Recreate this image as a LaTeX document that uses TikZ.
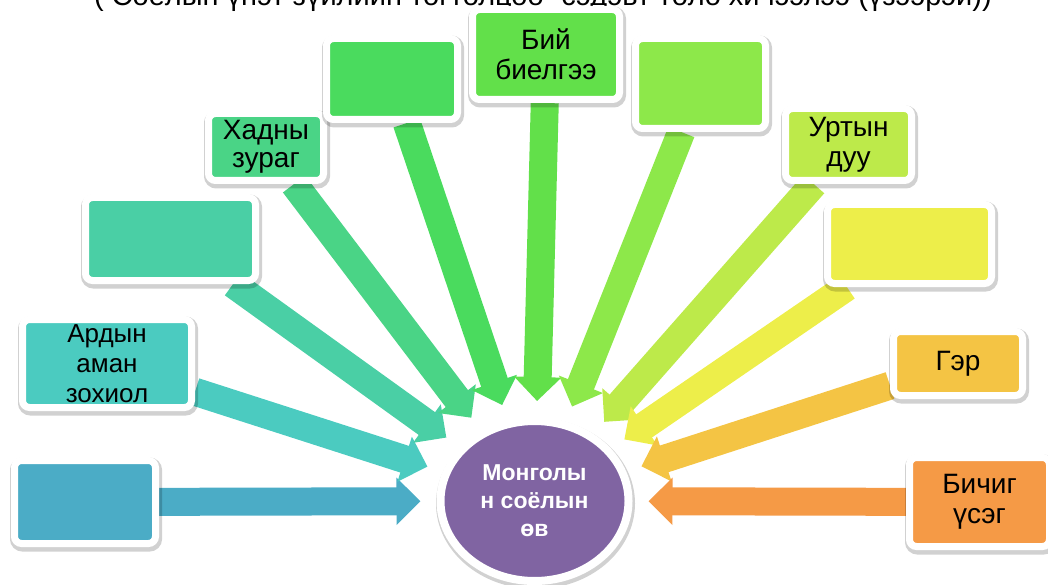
\documentclass[tikz,border=0pt]{standalone}
\usepackage{fontspec}
\setmainfont{Liberation Sans}
\usetikzlibrary{arrows.meta,shadows,shapes.geometric}
\usepackage{xcolor}

\definecolor{cBlue}{HTML}{4BACC6}
\definecolor{cTeal}{HTML}{4BCBC0}
\definecolor{cAqua}{HTML}{4ACFA5}
\definecolor{cMint}{HTML}{4AD486}
\definecolor{cGreen}{HTML}{4ADB5E}
\definecolor{cLime}{HTML}{62E04A}
\definecolor{cLeaf}{HTML}{8DE84A}
\definecolor{cPear}{HTML}{BDEA4A}
\definecolor{cLemon}{HTML}{EDEE4A}
\definecolor{cGold}{HTML}{F4C444}
\definecolor{cOrange}{HTML}{F59A46}
\definecolor{cPurple}{HTML}{8064A2}

\pgfdeclarelayer{background}
\pgfsetlayers{background,main}

\tikzset{
  softshadow/.style={drop shadow={opacity=0.18, fill=black, draw=black, line width=11pt,
    shadow xshift=1pt, shadow yshift=-2.5pt}},
  box/.style={draw=white, line width=7pt, rounded corners=7pt, inner sep=0pt,
    align=center, text=black, font=\fontsize{28}{30}\selectfont, softshadow},
  circ/.style={ellipse, fill=cPurple, draw=white, line width=8pt, inner sep=0pt,
    minimum width=188pt, minimum height=160pt, outer sep=20pt, align=center,
    text=white, font=\bfseries\fontsize{23}{28}\selectfont, softshadow},
  arr/.style={line width=28pt, -{Triangle[width=46pt,length=24pt]}},
}

\begin{document}
\begin{tikzpicture}[x=1pt,y=-1pt]
\useasboundingbox (0,0) rectangle (1048,585);

% title, cut at the top edge
\begin{scope}
\clip (0,0) rectangle (1048,585);
\node[anchor=base, font=\fontsize{29}{33}\selectfont] (title) at (543,6)
  {( Соёлын үнэт зүйлийн тогтолцоо” сэдэвт төлө хичээлээ (үзээрэй))};
\end{scope}

% centre
\node[circ] (circ) at (534.5,501) {Монголы\\н соёлын\\өв};

% boxes round the centre
\node[box, fill=cBlue, minimum width=141pt, minimum height=83pt] (box1) at (85,502) {};
\node[box, fill=cTeal, minimum width=169pt, minimum height=88pt,
  font=\fontsize{26}{30}\selectfont] (box2) at (107,363.5) {Ардын\\аман\\зохиол};
\node[box, fill=cAqua, minimum width=170pt, minimum height=83pt] (box3) at (170.5,239) {};
\node[box, fill=cMint, minimum width=115pt, minimum height=67pt,
  font=\fontsize{28}{28}\selectfont] (box4) at (266,147) {Хадны\\зураг};
\node[box, fill=cGreen, minimum width=131pt, minimum height=81pt] (box5) at (392,79) {};
\node[box, fill=cLime, minimum width=147pt, minimum height=90pt] (box6) at (546,54.5) {Бий\\биелгээ};
\node[box, fill=cLeaf, minimum width=130pt, minimum height=90pt] (box7) at (700.5,83.5) {};
\node[box, fill=cPear, minimum width=126pt, minimum height=72pt] (box8) at (848.5,144.5) {Уртын\\дуу};
\node[box, fill=cLemon, minimum width=164pt, minimum height=79pt] (box9) at (909.5,244) {};
\node[box, fill=cGold, minimum width=129pt, minimum height=64pt] (box10) at (958,363.5) {Гэр};
\node[box, fill=cOrange, minimum width=140pt, minimum height=89pt] (box11) at (979.5,502) {Бичиг\\үсэг};

% arrows into the centre
\begin{pgfonlayer}{background}
\foreach \n/\col in {box1/cBlue, box2/cTeal, box3/cAqua, box4/cMint, box5/cGreen, box6/cLime,
  box7/cLeaf, box8/cPear, box9/cLemon, box10/cGold, box11/cOrange}
\draw[arr, \col] (\n) -- (circ);
\end{pgfonlayer}
\end{tikzpicture}
\end{document}
